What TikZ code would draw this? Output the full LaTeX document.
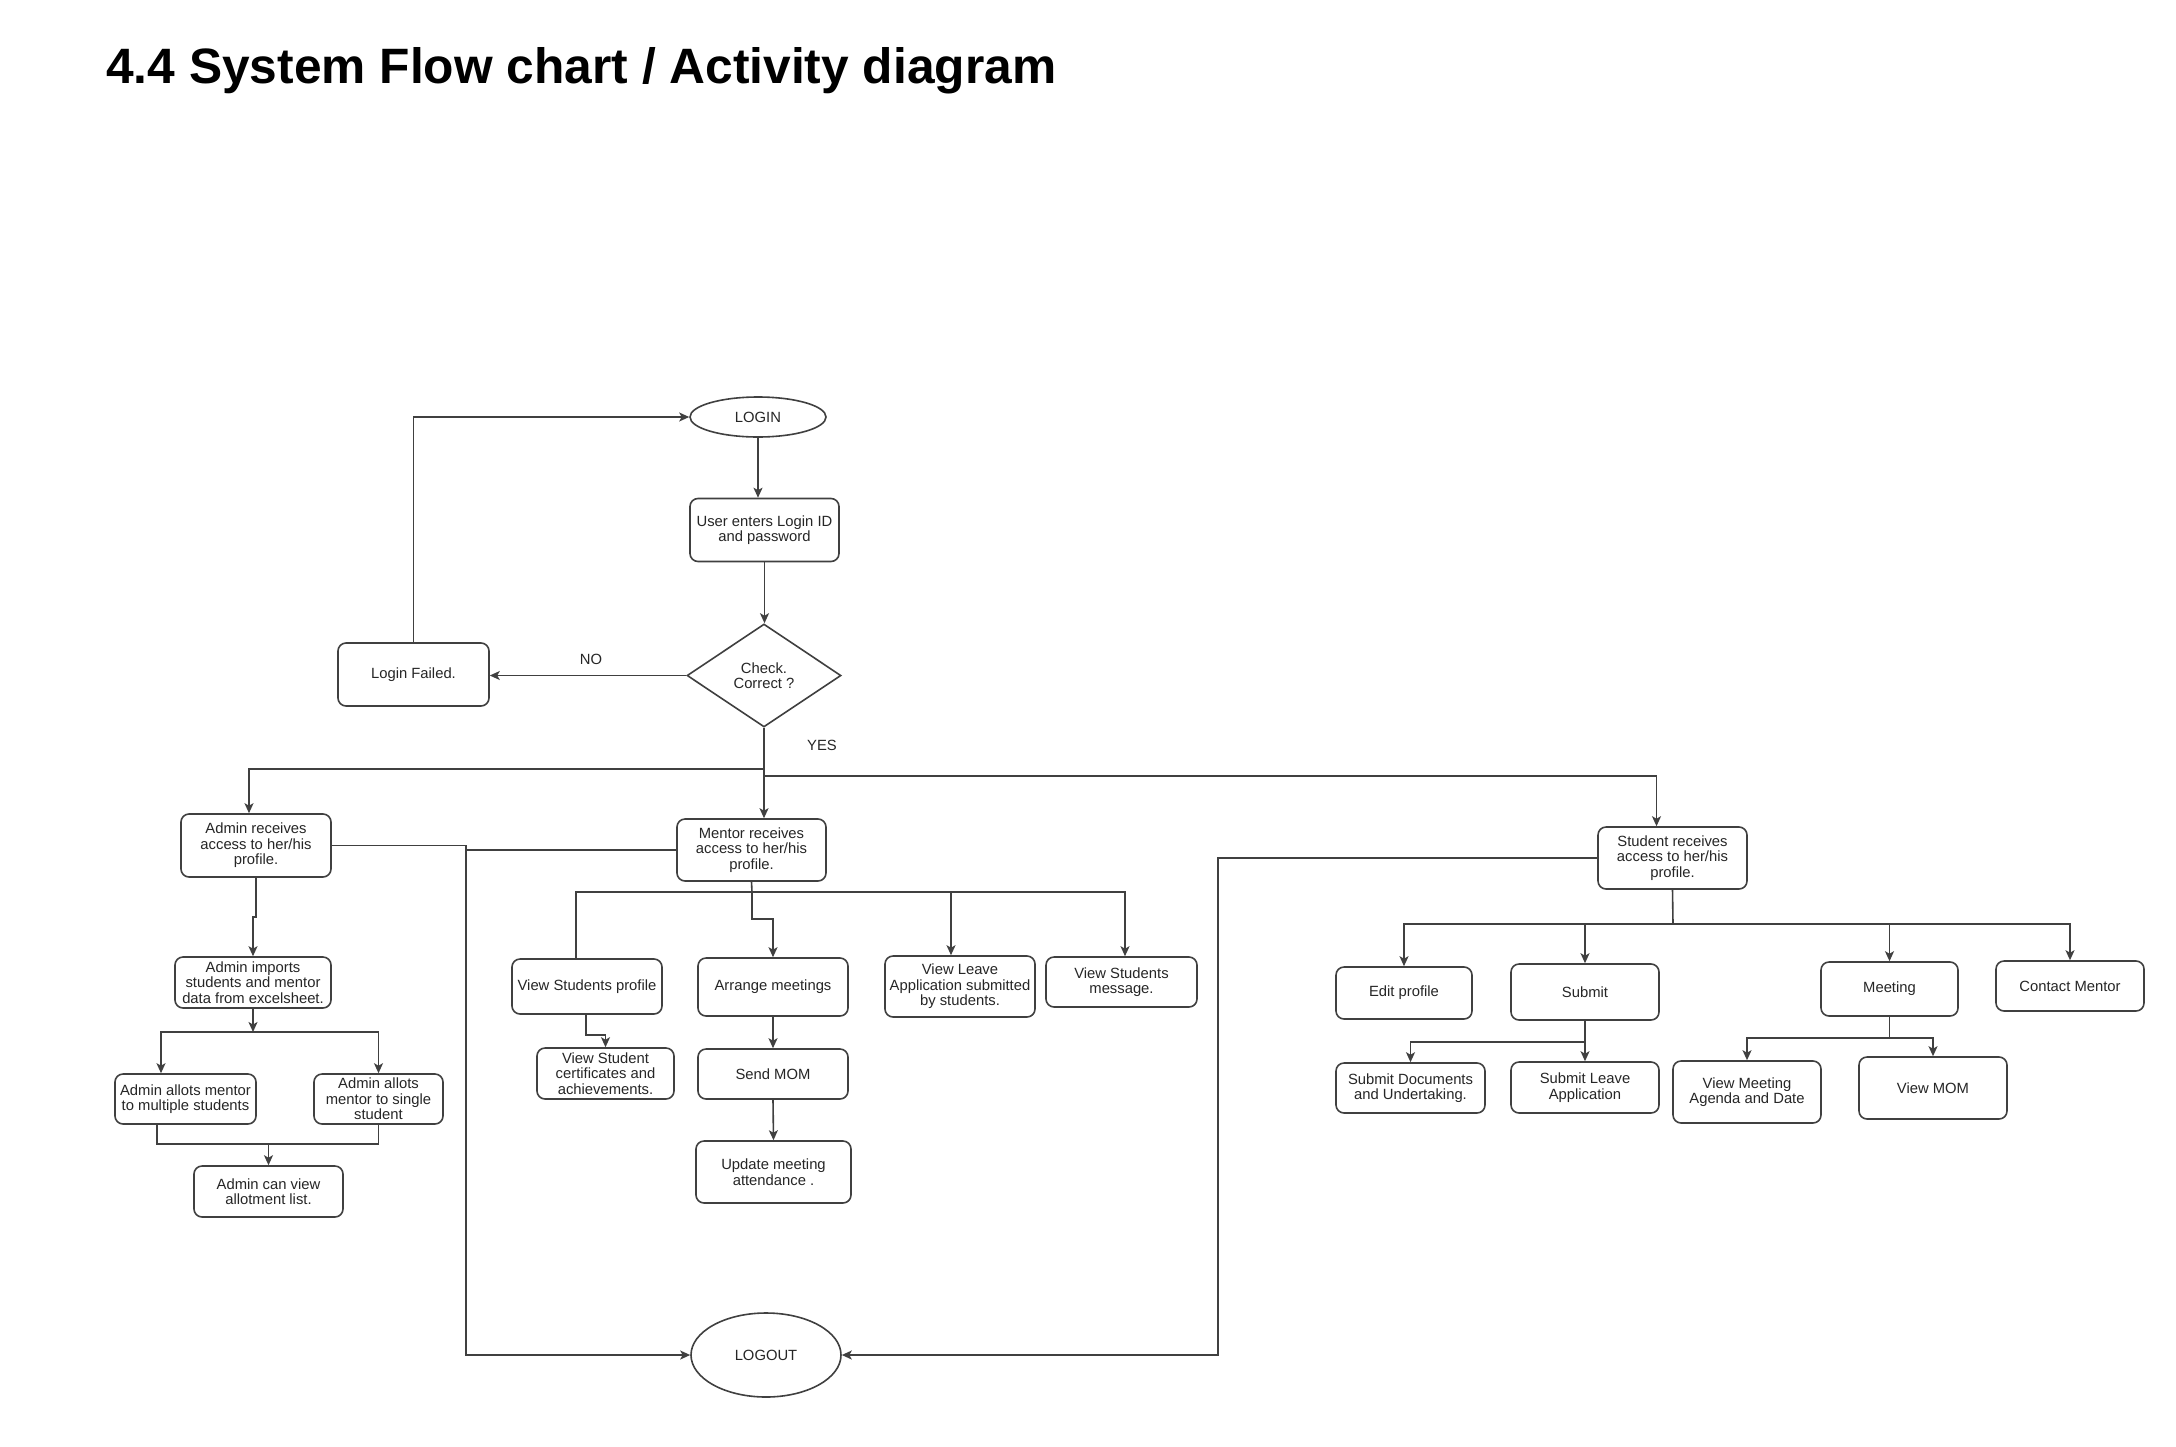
\documentclass[tikz,border=0pt]{standalone}
\usepackage{fontspec}
\setmainfont{Liberation Sans}
\usetikzlibrary{shapes.geometric,arrows.meta,calc}
\begin{document}
\begin{tikzpicture}[x=1pt,y=-1pt,
  every node/.style={font=\fontsize{14.8}{15.5}\selectfont, text=black!85},
  ln/.style={draw=black!75, line width=1.6pt},
  arr/.style={ln, -{Stealth[length=10pt,width=9pt,inset=2.5pt]}},
  box/.style={draw=black!75, line width=1.6pt, rounded corners=8pt, align=center, inner sep=0pt},
  oval/.style={ellipse, draw=black!75, line width=1.6pt, align=center, inner sep=0pt},
  wh/.style 2 args={minimum width=#1pt, minimum height=#2pt}]
\fill[white] (0,0) rectangle (2176,1446);
\useasboundingbox (0,0) rectangle (2176,1446);

\node[anchor=base west, font=\fontsize{49.7}{55}\selectfont\bfseries, text=black, inner sep=0pt] (title) at (106,83) {4.4 System Flow chart / Activity diagram};

% top part
\node[oval, wh={136}{40}] (login) at (758,417) {LOGIN};
\node[box, wh={149}{63}] (user) at (764.5,530) {User enters Login ID\\and password};
\node[diamond, draw=black!75, line width=1.6pt, align=center, inner sep=0pt, wh={154}{103}] (check) at (764,675.5) {Check.\\Correct ?};
\node[box, wh={151}{63}] (failed) at (413.5,674.5) {Login Failed.};
\node (no) at (591,659) {NO};
\node (yes) at (822,745) {YES};

% roles
\node[box, wh={150}{63}] (admin) at (256,845.5) {Admin receives\\access to her/his\\profile.};
\node[box, wh={149}{62}] (mentor) at (751.5,850) {Mentor receives\\access to her/his\\profile.};
\node[box, wh={149}{62}] (student) at (1672.5,858) {Student receives\\access to her/his\\profile.};

% admin subtree
\node[box, wh={156}{51}] (imports) at (253,982.5) {Admin imports\\students and mentor\\data from excelsheet.};
\node[box, wh={141}{50}] (multi) at (185.5,1099) {Admin allots mentor\\to multiple students};
\node[box, wh={129}{50}] (single) at (378.5,1099) {Admin allots\\mentor to single\\student};
\node[box, wh={149}{51}] (viewallot) at (268.5,1191.5) {Admin can view\\allotment list.};

% mentor subtree
\node[box, wh={150}{55}] (vsp) at (587,986.5) {View Students profile};
\node[box, wh={137}{51}] (cert) at (605.5,1073.5) {View Student\\certificates and\\achievements.};
\node[box, wh={150}{58}] (arrange) at (773,987) {Arrange meetings};
\node[box, wh={150}{50}] (sendmom) at (773,1074) {Send MOM};
\node[box, wh={155}{62}] (update) at (773.5,1172) {Update meeting\\attendance .};
\node[box, wh={150}{61}] (leave) at (960,986.5) {View Leave\\Application submitted\\by students.};
\node[box, wh={151}{50}] (message) at (1121.5,982) {View Students\\message.};

% student subtree
\node[box, wh={136}{52}] (edit) at (1404,993) {Edit profile};
\node[box, wh={148}{56}] (submit) at (1585,992) {Submit};
\node[box, wh={137}{54}] (meeting) at (1889.5,989) {Meeting};
\node[box, wh={148}{50}] (contact) at (2070,986) {Contact Mentor};
\node[box, wh={149}{50}] (docs) at (1410.5,1088) {Submit Documents\\and Undertaking.};
\node[box, wh={148}{51}] (sleave) at (1585,1087.5) {Submit Leave\\Application};
\node[box, wh={148}{62}] (agenda) at (1747,1092) {View Meeting\\Agenda and Date};
\node[box, wh={148}{62}] (viewmom) at (1933,1088) {View MOM};

\node[oval, wh={150}{84}] (logout) at (766,1355) {LOGOUT};

% connectors: login part
\draw[arr] (login.south) -- (login.south |- user.north);
\draw[arr] (user.south) -- (user.south |- check.north);
\draw[arr] (check.west) -- (check.west -| failed.east);
\draw[arr] (failed.north) |- (login.west);

% yes branch
\coordinate (ya) at (764,769);
\coordinate (yb) at (764,776);
\draw[ln] (check.south) -- (yb);
\draw[arr] (ya) -| ([xshift=-7pt]admin.north);
\draw[arr] (check.south) -- (check.south |- mentor.north);
\draw[arr] (yb) -| ([xshift=-16pt]student.north);

% to logout
\coordinate (lv) at (466,845);
\coordinate (rv) at (1218,857);
\draw[arr] (admin.east) -- (admin.east -| lv) |- (logout.west);
\draw[ln] (mentor.west) -- (mentor.west -| lv);
\draw[arr] (student.west) -- (student.west -| rv) |- (logout.east);

% admin subtree
\draw[arr] (admin.south) -- ++(0,39) -| (imports.north);
\coordinate (sp) at (254,1032);
\draw[arr] (imports.south) -- (imports.south |- sp);
\draw[arr] (sp) -| ([xshift=-24.5pt]multi.north);
\draw[arr] (sp) -| (single.north);
\coordinate (jn) at (269,1144);
\draw[ln] ([xshift=-28.5pt]multi.south) |- (single.south |- jn) -- (single.south);
\draw[arr] (viewallot.north |- jn) -- (viewallot.north);

% mentor subtree
\coordinate (mh) at (752,892);
\draw[ln] (mentor.south) -- (mh);
\draw[ln] ([xshift=-11pt]vsp.north) |- (mh);
\draw[arr] (mh) -| ([xshift=-9pt]leave.north);
\draw[arr] (mh) -| ([xshift=3.5pt]message.north);
\draw[arr] (mh) -- ++(0,27) -| (arrange.north);
\draw[arr] ([xshift=-1pt]vsp.south) -- ++(0,20) -| (cert.north);
\draw[arr] (arrange.south) -- (sendmom.north);
\draw[arr] (sendmom.south) -- (update.north);

% student subtree
\coordinate (sh) at (1673,924);
\draw[ln] (student.south) -- (sh);
\draw[arr] (sh) -| (edit.north);
\draw[arr] (sh) -| (submit.north);
\draw[arr] (sh) -| (meeting.north);
\draw[arr] (sh) -| (contact.north);
\draw[arr] (submit.south) -- (sleave.north);
\draw[arr] (submit.south) -- ++(0,21) -| (docs.north);
\draw[arr] (meeting.south) -- ++(0,21) -| (agenda.north);
\draw[arr] (meeting.south) -- ++(0,21) -| (viewmom.north);
\end{tikzpicture}
\end{document}
